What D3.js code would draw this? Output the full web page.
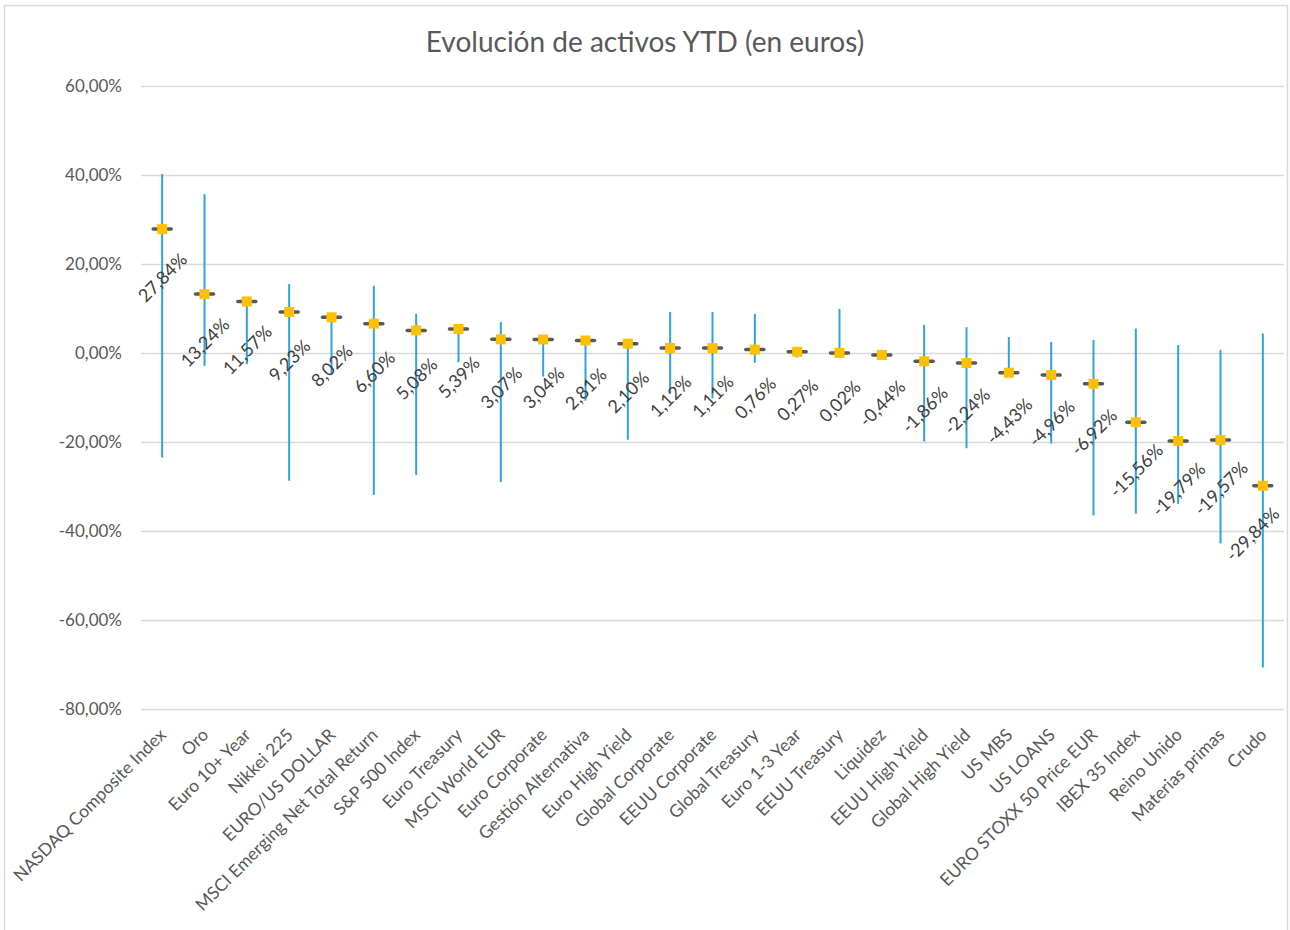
<!DOCTYPE html>
<html>
<head>
<meta charset="utf-8">
<script src="https://cdn.jsdelivr.net/npm/d3@7"></script>
<style>
  html, body { margin: 0; padding: 0; background: #fff; }
  svg { display: block; font-family: Lato, "Open Sans", sans-serif; }
</style>
</head>
<body>
<svg id="chart" width="1290" height="930"></svg>
<script>
// Asset names, in chart order
const categories = [
  "NASDAQ Composite Index", "Oro", "Euro 10+ Year", "Nikkei 225", "EURO/US DOLLAR",
  "MSCI Emerging Net Total Return", "S&P 500 Index", "Euro Treasury", "MSCI World EUR",
  "Euro Corporate", "Gestión Alternativa", "Euro High Yield", "Global Corporate",
  "EEUU Corporate", "Global Treasury", "Euro 1-3 Year", "EEUU Treasury", "Liquidez",
  "EEUU High Yield", "Global High Yield", "US MBS", "US LOANS", "EURO STOXX 50 Price EUR",
  "IBEX 35 Index", "Reino Unido", "Materias primas", "Crudo"
];
// Year-to-date return (%)
const ytd = [27.84, 13.24, 11.57, 9.23, 8.02, 6.60, 5.08, 5.39, 3.07, 3.04, 2.81, 2.10,
  1.12, 1.11, 0.76, 0.27, 0.02, -0.44, -1.86, -2.24, -4.43, -4.96, -6.92, -15.56,
  -19.79, -19.57, -29.84];
// Year-to-date maximum (%)
const high = [40.2, 35.7, 11.57, 15.5, 8.02, 15.1, 8.8, 5.39, 7.0, 3.04, 2.81, 2.10,
  9.2, 9.2, 8.8, 0.27, 9.9, -0.44, 6.3, 5.8, 3.6, 2.5, 2.9, 5.5, 1.8, 0.7, 4.4];
// Year-to-date minimum (%)
const low = [-23.5, -2.9, -2.5, -28.7, -4.7, -31.9, -27.4, -2.1, -29.0, -5.3, -10.7, -19.5,
  -9.2, -10.2, -2.2, -1.0, -0.2, -0.44, -19.9, -21.4, -4.43, -20.3, -36.5, -36.1,
  -33.9, -42.8, -70.7];
// Value axis ticks (%)
const yTicks = [60, 40, 20, 0, -20, -40, -60, -80];
</script>
<script>
const svg = d3.select("#chart");
const W = 1290;
const margin = { left: 141, right: 6, top: 86, plotBottom: 709 };

// Spanish number format: comma decimal, hyphen minus
const es = d3.formatLocale({ decimal: ",", thousands: ".", grouping: [3], currency: ["", " €"], minus: "-" });
const fmt = es.format(".2f");

// Chart frame
svg.append("rect")
  .attr("x", 4.5).attr("y", 5.5)
  .attr("width", 1283).attr("height", 940)
  .attr("fill", "#fff").attr("stroke", "#d9d9d9").attr("stroke-width", 1.5);

// Title
svg.append("text")
  .attr("x", 645).attr("y", 52)
  .attr("text-anchor", "middle")
  .attr("fill", "#595959")
  .attr("font-size", 28)
  .text("Evolución de activos YTD (en euros)");

const x = d3.scaleBand()
  .domain(categories)
  .range([margin.left, W - margin.right]);

const y = d3.scaleLinear()
  .domain([-80, 60])
  .range([margin.plotBottom, margin.top]);

// Gridlines and value axis
const yAxis = d3.axisLeft(y)
  .tickValues(yTicks)
  .tickSize(-(W - margin.right - margin.left))
  .tickPadding(19)
  .tickFormat(d => fmt(d) + "%");

const gy = svg.append("g")
  .attr("transform", `translate(${margin.left},0)`)
  .call(yAxis);
gy.select(".domain").remove();
gy.selectAll(".tick line").attr("stroke", "#d9d9d9").attr("stroke-width", 1.5);
gy.selectAll(".tick text")
  .attr("fill", "#595959")
  .attr("font-size", 17)
  .attr("font-family", "Lato, sans-serif");

// Category axis labels
const xAxis = d3.axisBottom(x).tickSize(0).tickPadding(0);
const gx = svg.append("g")
  .attr("transform", `translate(0,${margin.plotBottom})`)
  .call(xAxis);
gx.select(".domain").remove();
gx.selectAll(".tick text")
  .attr("fill", "#595959")
  .attr("font-size", 17.5)
  .attr("font-family", "Lato, sans-serif")
  .attr("text-anchor", "end")
  .attr("dy", 0)
  .attr("y", 0)
  .attr("transform", "translate(5,27) rotate(-45)");

const rows = categories.map((c, i) => ({ c, v: ytd[i], hi: high[i], lo: low[i] }));
const cx = d => x(d.c) + x.bandwidth() / 2;

const marks = svg.append("g");

// High-low range lines
marks.selectAll("line.range")
  .data(rows.filter(d => d.hi !== d.lo))
  .join("line")
  .attr("class", "range")
  .attr("x1", cx).attr("x2", cx)
  .attr("y1", d => y(d.hi)).attr("y2", d => y(d.lo))
  .attr("stroke", "#2ea3dc")
  .attr("stroke-width", 2);

// Close ticks
marks.selectAll("line.close")
  .data(rows)
  .join("line")
  .attr("class", "close")
  .attr("x1", d => cx(d) - 9).attr("x2", d => cx(d) + 9)
  .attr("y1", d => y(d.v)).attr("y2", d => y(d.v))
  .attr("stroke", "#595959")
  .attr("stroke-width", 3.5)
  .attr("stroke-linecap", "round");

// YTD markers
marks.selectAll("rect.pt")
  .data(rows)
  .join("rect")
  .attr("class", "pt")
  .attr("x", d => cx(d) - 5).attr("y", d => y(d.v) - 5)
  .attr("width", 10).attr("height", 10)
  .attr("fill", "#ffc000");

// Value labels, kept inside the plot area on the right
const labelMaxX = W - margin.right - 32;
marks.selectAll("text.lbl")
  .data(rows)
  .join("text")
  .attr("class", "lbl")
  .attr("text-anchor", "middle")
  .attr("dominant-baseline", "central")
  .attr("fill", "#404040")
  .attr("font-size", 18)
  .attr("transform", d => `translate(${Math.min(cx(d), labelMaxX)},${y(d.v) + 48}) rotate(-45)`)
  .text(d => fmt(d.v) + "%");
</script>
</body>
</html>
